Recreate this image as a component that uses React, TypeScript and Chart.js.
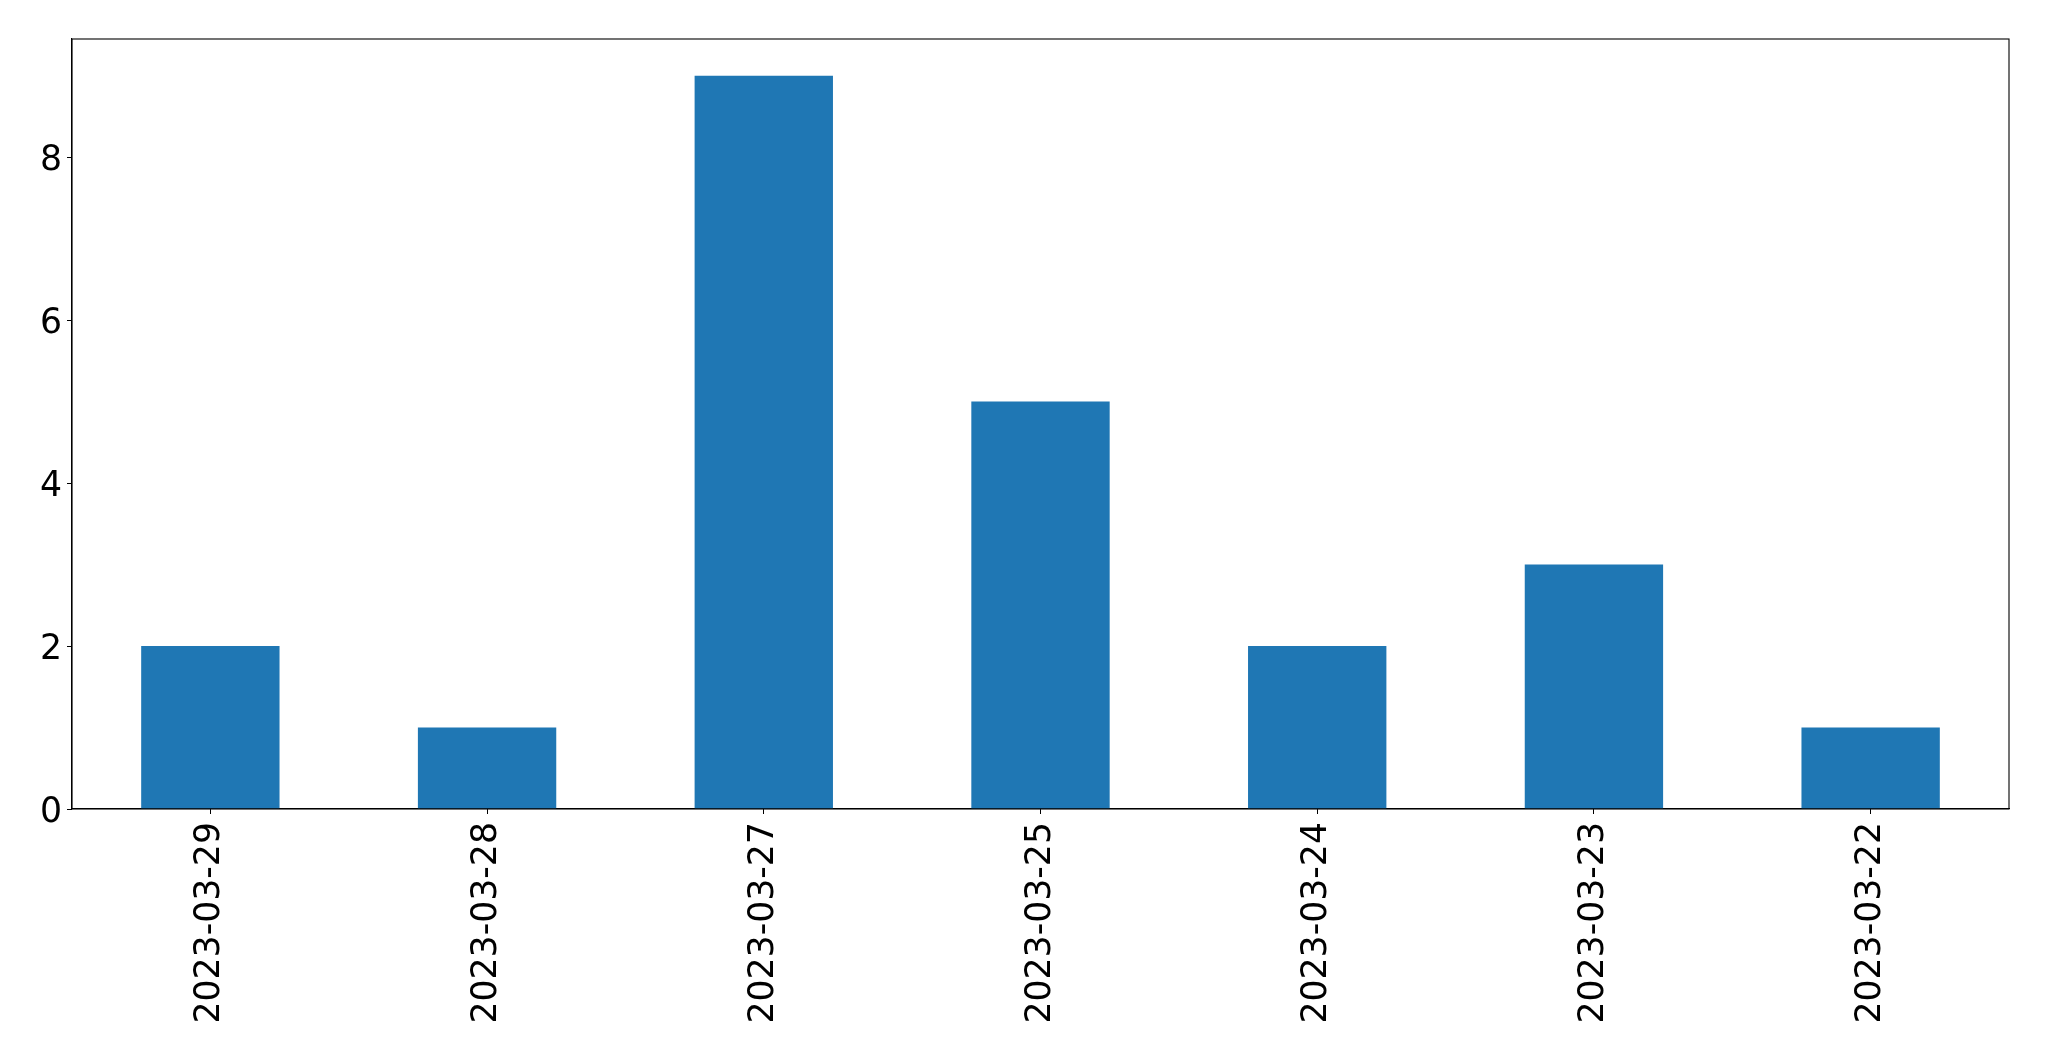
import React, { useEffect, useRef } from "react";
import { Chart, registerables } from "chart.js";

Chart.register(...registerables);

const categories = ["2023-03-29", "2023-03-28", "2023-03-27", "2023-03-25", "2023-03-24", "2023-03-23", "2023-03-22"];
const counts = [2, 1, 9, 5, 2, 3, 1];
const yTicks = [0, 2, 4, 6, 8];

const FONT = { family: "'DejaVu Sans', sans-serif", size: 34.7 };

const framePlugin = {
  id: "frame",
  afterDraw(chart: any) {
    const { ctx, chartArea } = chart;
    ctx.save();
    ctx.strokeStyle = "#000";
    ctx.lineWidth = 1.1;
    ctx.strokeRect(chartArea.left, chartArea.top, chartArea.right - chartArea.left, chartArea.bottom - chartArea.top);
    ctx.restore();
  },
};

export default function App() {
  const ref = useRef<HTMLCanvasElement>(null);
  useEffect(() => {
    document.body.style.margin = "0";
    const chart = new Chart(ref.current!, {
      type: "bar",
      data: {
        labels: categories,
        datasets: [
          {
            data: counts,
            backgroundColor: "#1f77b4",
            borderWidth: 0,
            barPercentage: 0.5,
            categoryPercentage: 1,
          },
        ],
      },
      options: {
        animation: false,
        responsive: false,
        devicePixelRatio: 1,
        layout: { padding: { left: 0, top: 39, right: 40, bottom: 0 } },
        plugins: { legend: { display: false }, tooltip: { enabled: false } },
        scales: {
          x: {
            offset: true,
            grid: { display: true, drawOnChartArea: false, drawTicks: true, tickLength: 5, color: "#000", offset: false },
            border: { display: true, color: "#000", width: 1.1 },
            ticks: { color: "#000", font: FONT, maxRotation: 90, minRotation: 90, padding: 8, autoSkip: false },
            afterFit: (s: any) => { s.height = 252; },
          },
          y: {
            min: 0,
            max: 9.45,
            grid: { display: true, drawOnChartArea: false, drawTicks: true, tickLength: 5, color: "#000" },
            border: { display: true, color: "#000", width: 1.1 },
            ticks: { color: "#000", font: FONT, stepSize: 2, includeBounds: false, padding: 5, labelOffset: 4 },
            afterBuildTicks: (s: any) => { s.ticks = yTicks.map((v) => ({ value: v })); },
            afterFit: (s: any) => { s.width = 72; },
          },
        },
      },
      plugins: [framePlugin],
    });
    return () => chart.destroy();
  }, []);
  return (
    <div style={{ position: "fixed", left: 0, top: 0, width: 2049, height: 1061, background: "#fff" }}>
      <canvas ref={ref} width={2049} height={1061} style={{ width: 2049, height: 1061 }} />
    </div>
  );
}
